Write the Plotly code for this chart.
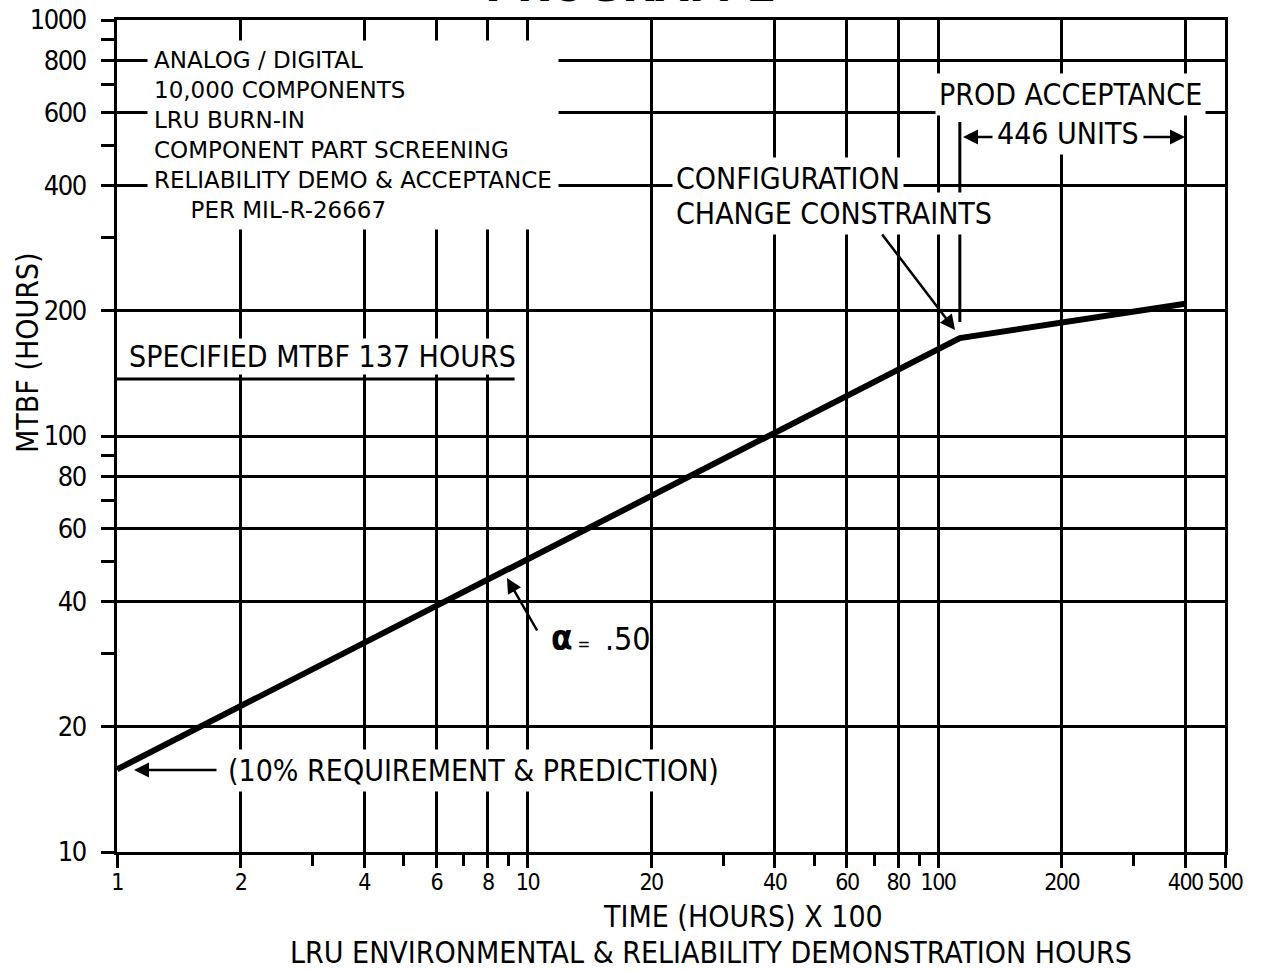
import math
import plotly.graph_objects as go

# ---------------- data ----------------
time_x100 = [1, 113, 400]          # TIME (HOURS) x 100
mtbf_hours = [15.8, 172, 208]      # MTBF (HOURS)
specified_mtbf = 137
specified_line_end = 9.3           # x where the "specified" line stops
prod_start = 113                   # start of production acceptance
prod_end = 400

x_tickvals = [1, 2, 4, 6, 8, 10, 20, 40, 60, 80, 100, 200, 400, 500]
x_ticktext = ["1", "2", "4", "6", "8", "10", "20", "40", "60", "80", "100", "200", "400", "500"]
x_minor = [3, 5, 7, 9, 30, 50, 70, 90, 300]
y_tickvals = [10, 20, 40, 60, 80, 100, 200, 400, 600, 800, 1000]
y_ticktext = ["10", "20", "40", "60", "80", "100", "200", "400", "600", "800", "1000"]
y_minor = [30, 50, 70, 90, 300, 500, 700, 900]

info_lines = ["ANALOG / DIGITAL", "10,000 COMPONENTS", "LRU BURN-IN",
              "COMPONENT PART SCREENING", "RELIABILITY DEMO & ACCEPTANCE",
              "\u00a0\u00a0\u00a0\u00a0\u00a0PER MIL-R-26667"]

# ---------------- layout geometry ----------------
W, H = 1265, 971
L, R, T, B = 117, 40, 20, 119
PW, PH = W - L - R, H - T - B
NARROW = "DejaVu Sans Condensed, Liberation Sans Narrow, sans-serif"
WIDE = "DejaVu Sans, Verdana, sans-serif"


def px(x):
    return (x - L) / PW


def py(y):
    return (T + PH - y) / PH


def tight(labels, sp):
    return ["<span style='letter-spacing:%spx'>%s</span>" % (sp, s) for s in labels]


fig = go.Figure()
fig.add_trace(go.Scatter(x=time_x100, y=mtbf_hours, mode="lines",
                         line=dict(color="black", width=6),
                         hoverinfo="skip", showlegend=False))

axis_common = dict(type="log", tickmode="array", ticks="outside", ticklen=13,
                   tickwidth=2.5, tickcolor="black", showgrid=True,
                   gridcolor="black", gridwidth=2.5, showline=True,
                   linecolor="black", linewidth=3, mirror=True,
                   zeroline=False, tickangle=0)

fig.update_xaxes(**axis_common, range=[0, math.log10(500)],
                 tickfont=dict(family=NARROW, size=23, color="black"),
                 tickvals=x_tickvals, ticktext=tight(x_ticktext, -1.5), ticklabelstandoff=-6,
                 minor=dict(tickvals=x_minor, ticks="outside", ticklen=11,
                            tickwidth=2.5, tickcolor="black", showgrid=False))
fig.update_yaxes(**axis_common, range=[1, 3],
                 tickfont=dict(family=NARROW, size=27, color="black"),
                 tickvals=y_tickvals, ticktext=tight(y_ticktext, -1.5), ticklabelstandoff=10,
                 minor=dict(tickvals=y_minor, ticks="outside", ticklen=13,
                            tickwidth=2.5, tickcolor="black", showgrid=False))

shapes = [
    # specified MTBF line
    dict(type="line", xref="x", yref="y", x0=1, x1=specified_line_end,
         y0=specified_mtbf, y1=specified_mtbf,
         line=dict(color="black", width=3), layer="above"),
    # production acceptance start marker
    dict(type="line", xref="x", yref="paper", x0=prod_start, x1=prod_start,
         y0=py(322), y1=py(122), line=dict(color="black", width=3), layer="above"),
]

ann = []


def text(t, x, y, size=30, family=NARROW, xanchor="center", bg=None, pad=2, **kw):
    d = dict(text=t, x=px(x), y=py(y), xref="paper", yref="paper",
             xanchor=xanchor, yanchor="middle", showarrow=False,
             font=dict(family=family, size=size, color="black"),
             borderpad=pad)
    if bg:
        d["bgcolor"] = bg
    d.update(kw)
    ann.append(d)


def arrow(tail, tip, width=2.5, size=1.2):
    ann.append(dict(text="", x=px(tip[0]), y=py(tip[1]), xref="paper", yref="paper",
                    ax=tail[0] - tip[0], ay=tail[1] - tip[1], showarrow=True,
                    arrowhead=2, arrowsize=size, arrowwidth=width,
                    arrowcolor="black"))


# title (mostly cut off at the top of the page, as in the reference)
ann.append(dict(text="<b>PROGRAM 2</b>", x=px(631), y=py(14), xref="paper", yref="paper",
                xanchor="center", yanchor="bottom", showarrow=False,
                font=dict(family=NARROW, size=48, color="black")))

# info block
text("<br>".join(info_lines), 147, 135, size=23, family=WIDE, xanchor="left",
     bg="white", pad=6, align="left")

text("SPECIFIED MTBF 137 HOURS", 322, 356, bg="white", pad=0)
text("(10% REQUIREMENT & PREDICTION)", 473, 770, bg="white", pad=3)
arrow((218, 770), (134, 770))

text("<b><span style='font-size:35px'>\u03b1</span></b>"
     "<span style='font-size:17px'>\u00a0=\u00a0\u00a0\u00a0</span>.50",
     548, 638, size=32, xanchor="left")
arrow((538, 632), (507, 578))

text("CONFIGURATION", 672, 178, xanchor="left", bg="white", pad=3)
text("CHANGE CONSTRAINTS", 672, 214, xanchor="left", bg="white", pad=3)
arrow((881, 233), (955, 330))

text("PROD ACCEPTANCE", 1070, 95, bg="white", pad=3)
text("446 UNITS", 1068, 133, bg="white", pad=3)
arrow((994, 137), (963, 137))
arrow((1142, 137), (1185, 137))

# axis titles
text("TIME (HOURS) X 100", 743, 916)
text("LRU ENVIRONMENTAL & RELIABILITY DEMONSTRATION HOURS", 711, 952)
text("MTBF (HOURS)", 27, 353, textangle=-90)

fig.update_layout(width=W, height=H, margin=dict(l=L, r=R, t=T, b=B, autoexpand=False),
                  paper_bgcolor="white", plot_bgcolor="white",
                  shapes=shapes, annotations=ann, showlegend=False)

fig.write_html("out.html", config={"displayModeBar": False},
               post_script="document.body.style.margin='0';document.body.style.overflow='hidden';")
